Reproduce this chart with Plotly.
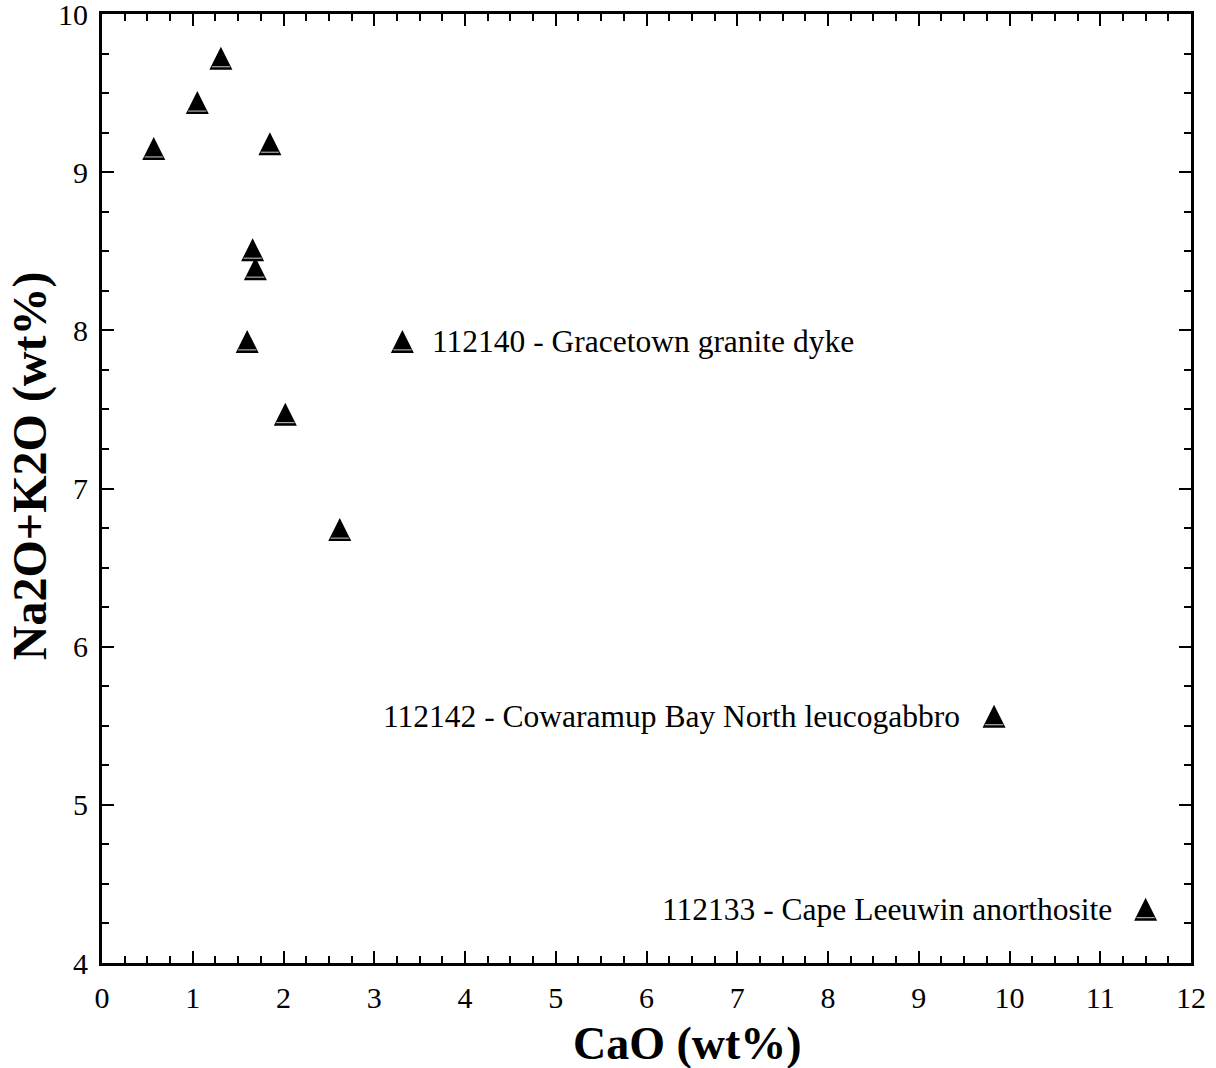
import plotly.graph_objects as go

# Data
cao = [0.57, 1.05, 1.31, 1.85, 1.66, 1.69, 1.60, 2.02, 2.62, 3.31, 9.83, 11.50]
alk = [9.15, 9.44, 9.72, 9.18, 8.51, 8.39, 7.93, 7.47, 6.74, 7.93, 5.56, 4.34]

label_x = [3.31, 9.83, 11.50]
label_y = [7.93, 5.56, 4.34]
label_text = ["112140 - Gracetown granite dyke",
              "112142 - Cowaramup Bay North leucogabbro",
              "112133 - Cape Leeuwin anorthosite"]
label_side = ["left", "right", "right"]

x_ticks = list(range(0, 13))
y_ticks = list(range(4, 11))

x_title = "CaO (wt%)"
y_title = "Na2O+K2O (wt%)"

SERIF = "Liberation Serif, Times New Roman, serif"

fig = go.Figure()
# filled triangle (arrow-down rotated 180 deg, shifted so its box is centred on the point)
fig.add_trace(go.Scatter(
    x=cao, y=alk, mode="markers",
    marker=dict(symbol="arrow-down", angle=180, size=23, color="black",
                standoff=11.5, line=dict(width=0)),
    showlegend=False, hoverinfo="x+y",
))
# thin light line near the base of each triangle
fig.add_trace(go.Scatter(
    x=cao, y=alk, mode="markers",
    marker=dict(symbol="line-ew", size=13, standoff=8.5,
                line=dict(width=1, color="#cfcfcf")),
    showlegend=False, hoverinfo="skip",
))

for lx, ly, lt, side in zip(label_x, label_y, label_text, label_side):
    fig.add_annotation(x=lx, y=ly, text=lt, showarrow=False,
                       xanchor=side, yanchor="middle",
                       xshift=28 if side == "left" else -32,
                       font=dict(family=SERIF, size=31.5, color="black"))

# axis titles (placed like the reference, slightly off-centre)
fig.add_annotation(xref="paper", yref="paper", x=0.538, y=-0.0843,
                   text="<b>" + x_title + "</b>", showarrow=False,
                   xanchor="center", yanchor="middle",
                   font=dict(family=SERIF, size=46, color="black"))
fig.add_annotation(xref="paper", yref="paper", x=-0.066, y=0.5237,
                   text="<b>" + y_title + "</b>", showarrow=False, textangle=-90,
                   xanchor="center", yanchor="middle",
                   font=dict(family=SERIF, size=48, color="black"))

axis_common = dict(
    showgrid=False, zeroline=False, showline=True, linecolor="black",
    linewidth=3, mirror="allticks", ticks="inside", ticklen=12,
    tickwidth=2, tickcolor="black", automargin=False,
    ticklabeloverflow="allow",
    tickfont=dict(family=SERIF, size=30, color="black"),
)

fig.update_xaxes(
    range=[0, 12], tickvals=x_ticks, ticktext=[str(v) for v in x_ticks],
    minor=dict(dtick=0.25, ticks="inside", ticklen=7, tickwidth=2, tickcolor="black"),
    ticklabelstandoff=6,
    **axis_common,
)
fig.update_yaxes(
    range=[4, 10], tickvals=y_ticks, ticktext=[str(v) for v in y_ticks],
    minor=dict(dtick=0.25, ticks="inside", ticklen=7, tickwidth=2, tickcolor="black"),
    ticklabelstandoff=5,
    **axis_common,
)

fig.update_layout(
    width=1216, height=1068,
    margin=dict(l=102, r=25, t=14, b=105),
    paper_bgcolor="white", plot_bgcolor="white",
    font=dict(family=SERIF, color="black"),
)

# remove the default page margin so the figure sits at the window's top-left corner
fig.write_html("out.html", config={"displayModeBar": False},
               post_script="document.body.style.margin='0';")
